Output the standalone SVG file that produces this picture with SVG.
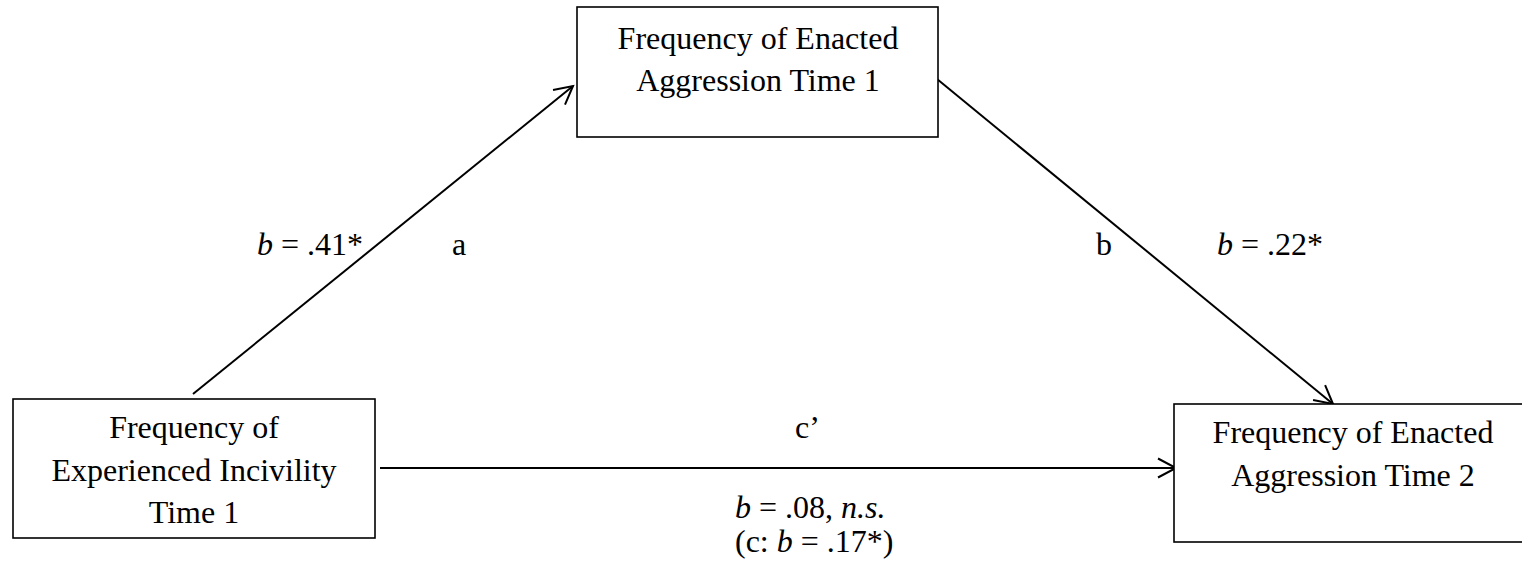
<svg xmlns="http://www.w3.org/2000/svg" width="1522" height="566" viewBox="0 0 1522 566">
<style>
.box{fill:#fff;stroke:#000;stroke-width:1.6}
.t{font-family:"Liberation Serif","Times New Roman",serif;font-size:32px;fill:#000}
.m{text-anchor:middle}
.conn{stroke:#000;stroke-width:2;fill:none}
</style>
<defs>
<marker id="arr" markerUnits="userSpaceOnUse" markerWidth="26" markerHeight="26" viewBox="-22 -13 26 26" refX="0" refY="0" orient="auto" overflow="visible">
<path d="M-18,-9.5 L0,0 L-18,9.5" fill="none" stroke="#000" stroke-width="2"/>
</marker>
</defs>
<rect width="1522" height="566" fill="#fff"/>
<g id="connectors">
<line class="conn" x1="193" y1="394" x2="573" y2="86" marker-end="url(#arr)"/>
<line class="conn" x1="937" y1="79" x2="1333" y2="404" marker-end="url(#arr)"/>
<line class="conn" x1="380" y1="468" x2="1176" y2="468" marker-end="url(#arr)"/>
</g>
<g id="node-enacted-t1">
<rect class="box" x="577" y="7" width="361" height="130"/>
<text class="t m" x="758" y="49">Frequency of Enacted</text>
<text class="t m" x="758" y="91">Aggression Time 1</text>
</g>
<g id="node-incivility-t1">
<rect class="box" x="13" y="399" width="362" height="139"/>
<text class="t m" x="194" y="438">Frequency of</text>
<text class="t m" x="194" y="481">Experienced Incivility</text>
<text class="t m" x="194" y="523">Time 1</text>
</g>
<g id="node-enacted-t2">
<rect class="box" x="1174" y="404" width="362" height="138"/>
<text class="t m" x="1353" y="443">Frequency of Enacted</text>
<text class="t m" x="1353" y="486">Aggression Time 2</text>
</g>
<g id="labels">
<text class="t" x="257" y="255"><tspan font-style="italic">b</tspan> = .41*</text>
<text class="t" x="452" y="255">a</text>
<text class="t" x="1096" y="255">b</text>
<text class="t" x="1217" y="255"><tspan font-style="italic">b</tspan> = .22*</text>
<text class="t" x="795" y="438">c’</text>
<text class="t" x="735" y="518"><tspan font-style="italic">b</tspan> = .08, <tspan font-style="italic">n.s.</tspan></text>
<text class="t" x="735" y="552">(c: <tspan font-style="italic">b</tspan> = .17*)</text>
</g>
</svg>
